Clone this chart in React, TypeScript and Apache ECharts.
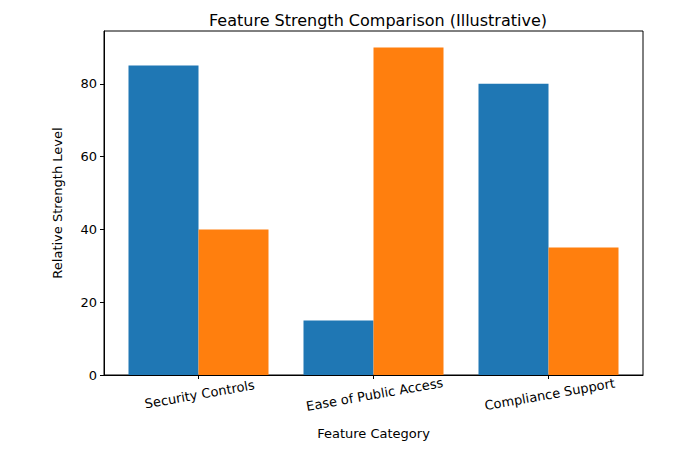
import React, { useEffect, useRef } from "react";
import * as echarts from "echarts";

const categories = ["Security Controls", "Ease of Public Access", "Compliance Support"];
const seriesA = [85, 15, 80];
const seriesB = [40, 90, 35];
const yTicks = [0, 20, 40, 60, 80];

const FONT = "DejaVu Sans";

const App: React.FC = () => {
  const chartRef = useRef<HTMLDivElement>(null);

  useEffect(() => {
    document.body.style.margin = "0";
    if (!chartRef.current) return;
    const chart = echarts.init(chartRef.current, undefined, { renderer: "svg" });

    const positions = categories.map((_, i) => i);

    const option: echarts.EChartsOption = {
      animation: false,
      textStyle: { fontFamily: FONT },
      title: {
        text: "Feature Strength Comparison (Illustrative)",
        left: 373,
        textAlign: "center",
        top: 7,
        textStyle: { fontFamily: FONT, fontSize: 16, fontWeight: "normal", color: "#000" },
      },
      grid: {
        left: 104,
        right: 57,
        top: 31,
        bottom: 75,
        show: true,
        borderColor: "#000",
        borderWidth: 1,
        backgroundColor: "transparent",
      },
      xAxis: {
        type: "value",
        min: -0.54,
        max: 2.54,
        splitLine: { show: false },
        axisLine: { show: true, onZero: false, lineStyle: { color: "#000", width: 1 } },
        axisTick: {
          show: true,
          length: 4,
          lineStyle: { color: "#000" },
          customValues: positions,
        },
        axisLabel: {
          customValues: positions,
          formatter: (v: number) => categories[Math.round(v)] ?? "",
          rotate: 10,
          align: "center",
          verticalAlign: "top",
          margin: 13,
          fontSize: 13,
          color: "#000",
          fontFamily: FONT,
        },
        name: "Feature Category",
        nameLocation: "middle",
        nameGap: 52,
        nameTextStyle: { fontSize: 13, color: "#000", fontFamily: FONT },
      },
      yAxis: {
        type: "value",
        min: 0,
        max: 94.5,
        interval: 20,
        axisLine: { show: true, onZero: false, lineStyle: { color: "#000", width: 1 } },
        axisTick: { show: true, length: 4, lineStyle: { color: "#000" }, customValues: yTicks },
        splitLine: { show: false },
        axisLabel: {
          customValues: yTicks,
          fontSize: 13,
          color: "#000",
          fontFamily: FONT,
          margin: 7,
        },
        name: "Relative Strength Level",
        nameLocation: "middle",
        nameGap: 40,
        nameTextStyle: { fontSize: 13, color: "#000", fontFamily: FONT },
      },
      series: [
        {
          type: "bar",
          data: seriesA.map((v, i) => [positions[i], v]),
          itemStyle: { color: "#1f77b4" },
          barWidth: "40%",
          barGap: "0%",
        },
        {
          type: "bar",
          data: seriesB.map((v, i) => [positions[i], v]),
          itemStyle: { color: "#ff7f0e" },
          barWidth: "40%",
          barGap: "0%",
        },
      ],
    };

    chart.setOption(option);
    return () => chart.dispose();
  }, []);

  return <div ref={chartRef} style={{ width: 700, height: 450 }} />;
};

export default App;
